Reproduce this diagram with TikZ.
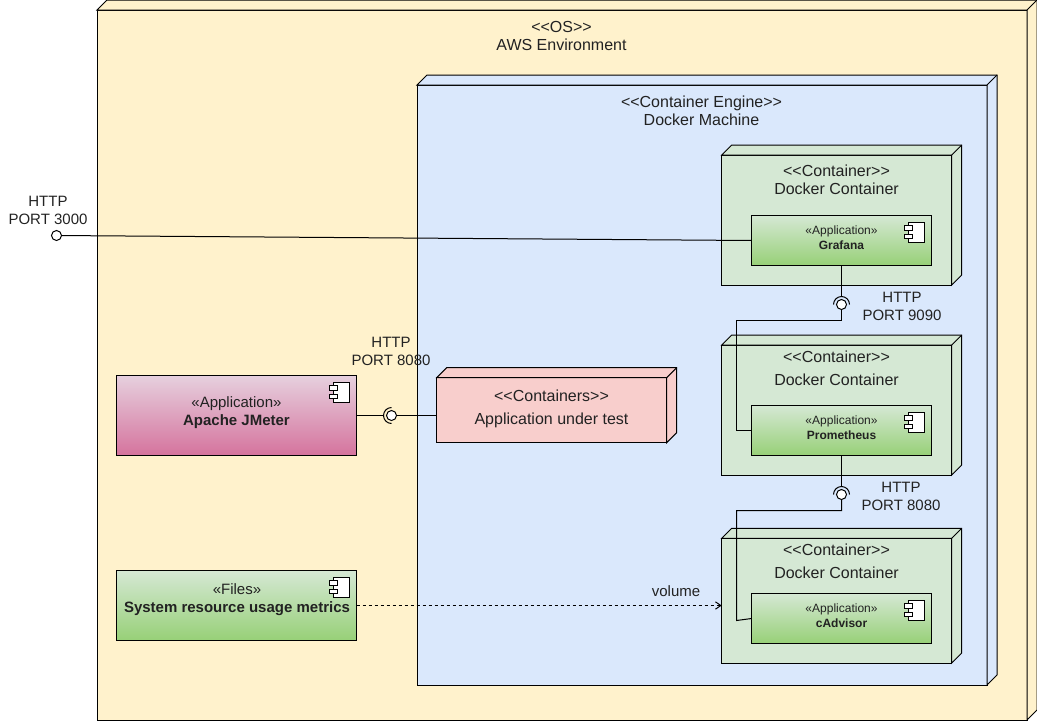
\documentclass[tikz,border=0pt]{standalone}
\usepackage{fontspec}
\setmainfont{Liberation Sans}
\usetikzlibrary{arrows.meta}
\definecolor{osfill}{HTML}{FFF2CC}
\definecolor{enginefill}{HTML}{DAE8FC}
\definecolor{contfill}{HTML}{D5E8D4}
\definecolor{testfill}{HTML}{F8CECC}
\definecolor{greentop}{HTML}{D5E8D4}
\definecolor{greenbot}{HTML}{97D077}
\definecolor{pinktop}{HTML}{E6D0DE}
\definecolor{pinkbot}{HTML}{D5739D}
\definecolor{ink}{HTML}{222222}
\tikzset{
  x=0.75pt,y=-0.75pt,
  line/.style={line width=0.75pt,draw=black},
  face/.style={line,rectangle,inner sep=0pt,outer sep=0pt,anchor=north west},
  txt/.style={text=ink,align=center,inner sep=0pt,font=\fontsize{12}{13.5}\selectfont},
  big/.style={text=ink,align=center,inner sep=0pt,font=\fontsize{11.25}{13.5}\selectfont},
  small/.style={text=ink,align=center,inner sep=0pt,font=\fontsize{9}{11.25}\selectfont},
  greengrad/.style={top color=greentop,bottom color=greenbot},
  pinkgrad/.style={top color=pinktop,bottom color=pinkbot},
  lolli/.style={line,circle,fill=white,inner sep=0pt,outer sep=0pt,minimum size=7.5pt},
}
% name, x1, y1, x2, y2, fill
\newcommand\deployBox[6]{%
  \node[face,fill=#6,minimum width={(#4-#2)*0.75pt},minimum height={(#5-#3)*0.75pt}] (#1) at (#2,#3) {};
  \draw[line,fill=#6,line join=miter] (#1.north west) -- ([shift={(10,-10)}]#1.north west)
    -- ([shift={(10,-10)}]#1.north east) -- ([shift={(10,-10)}]#1.south east)
    -- (#1.south east) -- (#1.north east) -- cycle;
  \draw[line] (#1.north east) -- ([shift={(10,-10)}]#1.north east);
}
% name, x1, y1, x2, y2, gradient style
\newcommand\compBox[6]{%
  \node[face,#6,minimum width={(#4-#2)*0.75pt},minimum height={(#5-#3)*0.75pt}] (#1) at (#2,#3) {};
  \draw[line,fill=white] ([shift={(-23.5,7)}]#1.north east) rectangle ([shift={(-7,27)}]#1.north east);
  \draw[line,fill=white] ([shift={(-27.5,10)}]#1.north east) rectangle ([shift={(-19,14.5)}]#1.north east);
  \draw[line,fill=white] ([shift={(-27.5,18.5)}]#1.north east) rectangle ([shift={(-19,23)}]#1.north east);
}
\begin{document}
\begin{tikzpicture}
\useasboundingbox (0,0) rectangle (1037,721);
\deployBox{os}{97}{10}{1027}{720}{osfill}
\deployBox{engine}{417}{85}{987}{685}{enginefill}
\deployBox{contA}{721.7}{155}{951.7}{285}{contfill}
\deployBox{contB}{721.7}{345}{951.7}{475}{contfill}
\deployBox{contC}{721.7}{538.3}{951.7}{663}{contfill}
\deployBox{test}{436.7}{377.7}{666.7}{442.7}{testfill}
\compBox{grafana}{751.5}{215.5}{931.5}{265.5}{greengrad}
\compBox{prom}{751.5}{405.5}{931.5}{455.5}{greengrad}
\compBox{cadv}{751.5}{593.5}{931.5}{643.5}{greengrad}
\compBox{jmeter}{116.7}{375.5}{356.7}{455.5}{pinkgrad}
\compBox{files}{116.7}{570.5}{356.7}{640.5}{greengrad}

% texts
\node[txt] (tOS) at (561.5,35.5) {<{}<OS>{}>\\AWS Environment};
\node[txt] (tEngine) at (701.5,110.5) {<{}<Container Engine>{}>\\Docker Machine};
\node[txt] (tContA) at (836.5,180) {<{}<Container>{}>\\Docker Container};
\node[txt] (tContB) at (836.5,368) {<{}<Container>{}>\\[4pt]Docker Container};
\node[txt] (tContC) at (836.5,561) {<{}<Container>{}>\\[4pt]Docker Container};
\node[txt] (tTest) at (551.5,408.6) {<{}<Containers>{}>\\[3.5pt]Application under test};
\node[small] (tGrafana) at (841.5,238) {«Application»\\\textbf{Grafana}};
\node[small] (tProm) at (841.5,428) {«Application»\\\textbf{Prometheus}};
\node[small] (tCadv) at (841.5,615.7) {«Application»\\\textbf{cAdvisor}};
\node[big] (tJmeter) at (236.5,412.5) {«Application»\\\textbf{Apache JMeter}};
\node[big] (tFiles) at (237,600) {«Files»\\\textbf{System resource usage metrics}};
\node[big] (lp3000) at (48,210) {HTTP\\PORT 3000};
\node[big] (lp9090) at (902,306) {HTTP\\PORT 9090};
\node[big] (lp8080a) at (391,351) {HTTP\\PORT 8080};
\node[big] (lp8080b) at (901,496) {HTTP\\PORT 8080};
\node[big] (lvol) at (676,591) {volume};

% external port
\node[lolli] (ext) at (56.5,235.5) {};
\draw[line] (ext) -- (grafana.west);

% interface grafana - prometheus
\node[lolli] (ifA) at (841.5,304.5) {};
\coordinate (sockA) at (841.5,296.5);
\draw[line] (grafana.south) -- (sockA);
\draw[line] ([shift={(-8,0)}]ifA.center) arc[start angle=180,end angle=360,radius=6pt,y radius=-6pt];
\coordinate (bendA) at (736.5,320.5);
\draw[line,line join=miter] (ifA.south) |- (bendA) |- (prom.west);

% interface prometheus - cadvisor
\node[lolli] (ifB) at (841.5,494.5) {};
\coordinate (sockB) at (841.5,486.5);
\draw[line] (prom.south) -- (sockB);
\draw[line] ([shift={(-8,0)}]ifB.center) arc[start angle=180,end angle=360,radius=6pt,y radius=-6pt];
\coordinate (bendB) at (736.5,510.5);
\coordinate (bendC) at (736.5,620.5);
\draw[line,line join=miter] (ifB.south) |- (bendB) -- (bendC) -- (cadv.west);

% interface jmeter - application under test
\node[lolli] (ifC) at (391.5,415.5) {};
\coordinate (sockC) at (383.5,415.5);
\draw[line] (jmeter.east) -- (sockC);
\draw[line] ([shift={(0,-8)}]ifC.center) arc[start angle=90,end angle=270,radius=6pt];
\coordinate (testPort) at (test.west |- ifC.east);
\draw[line] (ifC.east) -- (testPort);

% volume
\coordinate (volEnd) at (contC.west |- files.east);
\draw[line,dash pattern=on 2.25pt off 2.25pt,-{Straight Barb[length=4pt,width=5.5pt]}] (files.east) -- (volEnd);
\end{tikzpicture}
\end{document}
